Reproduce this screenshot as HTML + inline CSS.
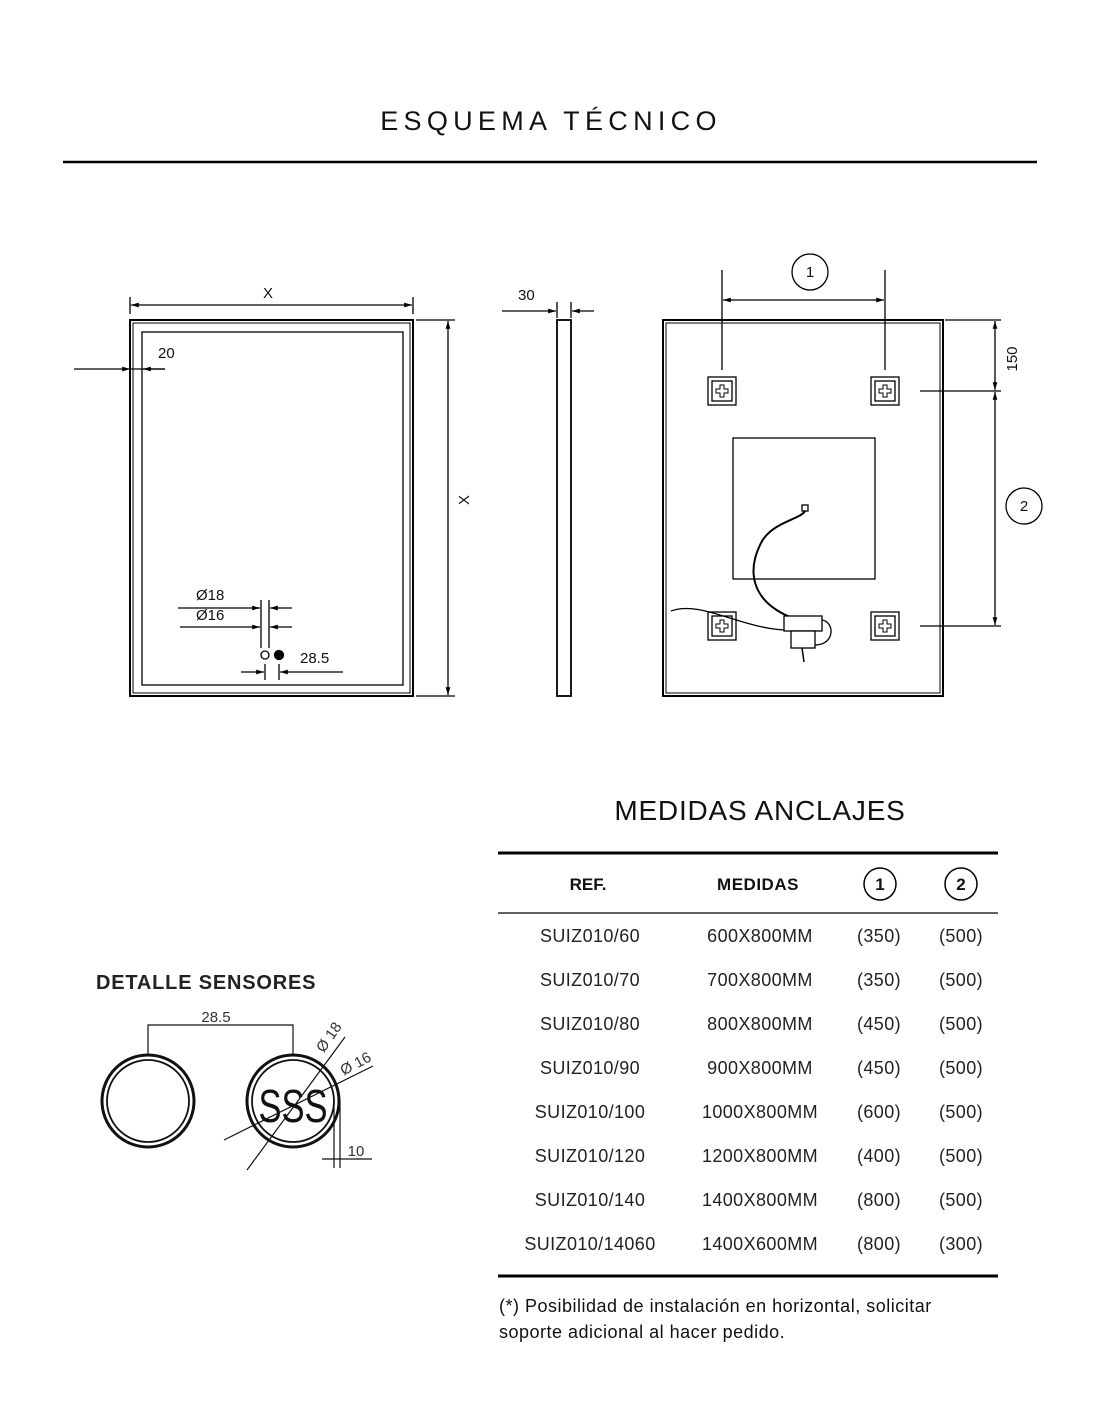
<!DOCTYPE html>
<html><head><meta charset="utf-8"><style>
body{margin:0;background:#fff;}
svg{display:block;font-family:"Liberation Sans",sans-serif;}
</style></head><body>
<svg width="1100" height="1422" viewBox="0 0 1100 1422" xmlns="http://www.w3.org/2000/svg">
<defs>
<marker id="a" viewBox="0 0 10 10" refX="10" refY="5" markerWidth="8" markerHeight="6" orient="auto-start-reverse"><path d="M0,2 L10,5 L0,8 z" fill="#000"/></marker>
<g id="b" stroke="#000" fill="none" stroke-width="1.3">
<rect x="-14" y="-14" width="28" height="28"/><rect x="-10" y="-10" width="20" height="20"/>
<path d="M-2,-6 h4 v4 h4 v4 h-4 v4 h-4 v-4 h-4 v-4 h4 z" stroke-width="1"/>
</g>
</defs>
<rect width="1100" height="1422" fill="#fff"/>
<text x="551" y="130" text-anchor="middle" font-size="27" letter-spacing="5.3" fill="#111">ESQUEMA TÉCNICO</text>
<line x1="63" y1="162" x2="1037" y2="162" stroke="#000" stroke-width="2.5"/>

<g stroke="#000" fill="none" stroke-width="1.3">
<rect x="130" y="320" width="283" height="376" stroke-width="2"/>
<rect x="133" y="323" width="277" height="370" stroke-width="1"/>
<rect x="142" y="332" width="261" height="353"/>
<line x1="130" y1="297" x2="130" y2="314"/><line x1="413" y1="297" x2="413" y2="314"/>
<line x1="131" y1="305" x2="412" y2="305" marker-start="url(#a)" marker-end="url(#a)"/>
<line x1="416" y1="320" x2="455" y2="320"/><line x1="416" y1="696" x2="455" y2="696"/>
<line x1="448" y1="321" x2="448" y2="695" marker-start="url(#a)" marker-end="url(#a)"/>
<line x1="74" y1="369" x2="130" y2="369" marker-end="url(#a)"/>
<line x1="130" y1="369" x2="165" y2="369"/>
<line x1="165" y1="369" x2="143" y2="369" marker-end="url(#a)"/>
<line x1="178" y1="608" x2="260" y2="608" marker-end="url(#a)"/>
<line x1="292" y1="608" x2="270" y2="608" marker-end="url(#a)"/>
<line x1="180" y1="627" x2="260" y2="627" marker-end="url(#a)"/>
<line x1="292" y1="627" x2="270" y2="627" marker-end="url(#a)"/>
<line x1="261" y1="600" x2="261" y2="648"/><line x1="269" y1="600" x2="269" y2="648"/>
<circle cx="265" cy="655" r="4"/>
<circle cx="279" cy="655" r="4.5" fill="#000"/>
<line x1="241" y1="672" x2="264" y2="672" marker-end="url(#a)"/>
<line x1="343" y1="672" x2="280" y2="672" marker-end="url(#a)"/>
<line x1="265" y1="664" x2="265" y2="680"/><line x1="279" y1="664" x2="279" y2="680"/>
<rect x="557" y="320" width="14" height="376" stroke-width="1.8"/>
<line x1="502" y1="311" x2="556" y2="311" marker-end="url(#a)"/>
<line x1="594" y1="311" x2="572" y2="311" marker-end="url(#a)"/>
<line x1="557" y1="302" x2="557" y2="318"/><line x1="571" y1="302" x2="571" y2="318"/>
<rect x="663" y="320" width="280" height="376" stroke-width="2"/>
<rect x="666" y="323" width="274" height="370" stroke-width="1"/>
<rect x="733" y="438" width="142" height="141"/>
<line x1="722" y1="270" x2="722" y2="370"/><line x1="885" y1="270" x2="885" y2="370"/>
<line x1="723" y1="300" x2="884" y2="300" marker-start="url(#a)" marker-end="url(#a)"/>
<circle cx="810" cy="272" r="18"/>
<line x1="945" y1="320" x2="1001" y2="320"/>
<line x1="920" y1="391" x2="1001" y2="391"/>
<line x1="920" y1="626" x2="1001" y2="626"/>
<line x1="995" y1="321" x2="995" y2="390" marker-start="url(#a)" marker-end="url(#a)"/>
<line x1="995" y1="392" x2="995" y2="625" marker-start="url(#a)" marker-end="url(#a)"/>
<circle cx="1024" cy="506" r="18"/>
</g>
<use href="#b" x="722" y="391"/><use href="#b" x="885" y="391"/><use href="#b" x="722" y="626"/><use href="#b" x="885" y="626"/>
<g stroke="#000" fill="none" stroke-width="1.3">
<rect x="802" y="505" width="6" height="6" fill="#fff"/>
<path d="M805,511 C800,520 770,522 760,545 C748,570 750,600 790,617" stroke-width="2"/>
<path d="M671,611 C700,600 740,628 785,630" stroke-width="1.3"/>
<rect x="784" y="616" width="38" height="15" fill="#fff"/>
<rect x="791" y="631" width="24" height="17" fill="#fff"/>
<path d="M822,620 C835,622 835,645 815,645"/>
<path d="M802,648 L804,662" stroke-width="1.5"/>
</g>
<g font-size="15" fill="#111">
<text x="268" y="298" text-anchor="middle">X</text>
<text x="469" y="500" text-anchor="middle" transform="rotate(-90 469 500)">X</text>
<text x="158" y="358">20</text>
<text x="196" y="600">Ø18</text>
<text x="196" y="620">Ø16</text>
<text x="300" y="663">28.5</text>
<text x="518" y="300">30</text>
<text x="810" y="277" text-anchor="middle">1</text>
<text x="1024" y="511" text-anchor="middle">2</text>
<text x="1017" y="359" text-anchor="middle" transform="rotate(-90 1017 359)">150</text>
</g>

<text x="96" y="989" font-size="20" font-weight="bold" letter-spacing="0.8" fill="#222">DETALLE SENSORES</text>
<g stroke="#111" fill="none">
<polyline points="148,1054 148,1025 293,1025 293,1054" stroke-width="1.2"/>
<circle cx="148" cy="1101" r="46" stroke-width="3"/>
<circle cx="148" cy="1101" r="41" stroke-width="1.8"/>
<circle cx="293" cy="1101" r="46" stroke-width="3"/>
<circle cx="293" cy="1101" r="41" stroke-width="1.8"/>
<line x1="247" y1="1170" x2="345" y2="1037" stroke-width="1.2"/>
<line x1="224" y1="1140" x2="373" y2="1066" stroke-width="1.2"/>
<line x1="334" y1="1100" x2="334" y2="1168" stroke-width="1.2"/>
<line x1="340" y1="1100" x2="340" y2="1168" stroke-width="1.2"/>
<line x1="322" y1="1159" x2="372" y2="1159" stroke-width="1.2"/>
</g>
<g fill="#333" font-size="15">
<text x="216" y="1022" text-anchor="middle">28.5</text>
<text x="333" y="1040" transform="rotate(-55 333 1040)" text-anchor="middle">Ø 18</text>
<text x="358" y="1068" transform="rotate(-28 358 1068)" text-anchor="middle">Ø 16</text>
<text x="356" y="1156" text-anchor="middle">10</text>
<text x="293" y="1122" text-anchor="middle" font-size="46" transform="translate(293 0) scale(0.75 1) translate(-293 0)" fill="#111">SSS</text>
</g>

<text x="760" y="820" text-anchor="middle" font-size="28" letter-spacing="0.8" fill="#111">MEDIDAS ANCLAJES</text>
<line x1="498" y1="853" x2="998" y2="853" stroke="#000" stroke-width="3"/>
<line x1="498" y1="913" x2="998" y2="913" stroke="#000" stroke-width="1.2"/>
<line x1="498" y1="1276" x2="998" y2="1276" stroke="#000" stroke-width="3"/>
<g font-size="17" font-weight="bold" fill="#111" text-anchor="middle">
<text x="588" y="890">REF.</text><text x="758" y="890" letter-spacing="0.5">MEDIDAS</text>
<text x="880" y="890">1</text><text x="961" y="890">2</text>
</g>
<circle cx="880" cy="884" r="16" fill="none" stroke="#000" stroke-width="1.5"/>
<circle cx="961" cy="884" r="16" fill="none" stroke="#000" stroke-width="1.5"/>
<g font-size="18" fill="#222" text-anchor="middle" letter-spacing="0.4">
<text x="590" y="942">SUIZ010/60</text><text x="760" y="942">600X800MM</text><text x="879" y="942">(350)</text><text x="961" y="942">(500)</text>
<text x="590" y="986">SUIZ010/70</text><text x="760" y="986">700X800MM</text><text x="879" y="986">(350)</text><text x="961" y="986">(500)</text>
<text x="590" y="1030">SUIZ010/80</text><text x="760" y="1030">800X800MM</text><text x="879" y="1030">(450)</text><text x="961" y="1030">(500)</text>
<text x="590" y="1074">SUIZ010/90</text><text x="760" y="1074">900X800MM</text><text x="879" y="1074">(450)</text><text x="961" y="1074">(500)</text>
<text x="590" y="1118">SUIZ010/100</text><text x="760" y="1118">1000X800MM</text><text x="879" y="1118">(600)</text><text x="961" y="1118">(500)</text>
<text x="590" y="1162">SUIZ010/120</text><text x="760" y="1162">1200X800MM</text><text x="879" y="1162">(400)</text><text x="961" y="1162">(500)</text>
<text x="590" y="1206">SUIZ010/140</text><text x="760" y="1206">1400X800MM</text><text x="879" y="1206">(800)</text><text x="961" y="1206">(500)</text>
<text x="590" y="1250">SUIZ010/14060</text><text x="760" y="1250">1400X600MM</text><text x="879" y="1250">(800)</text><text x="961" y="1250">(300)</text>
</g>
<g font-size="18" fill="#111" letter-spacing="0.5">
<text x="499" y="1312">(*) Posibilidad de instalación en horizontal, solicitar</text>
<text x="499" y="1338">soporte adicional al hacer pedido.</text>
</g>
</svg>
</body></html>
